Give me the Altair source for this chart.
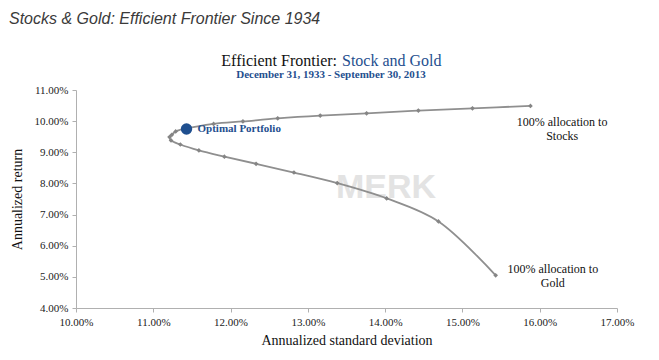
import altair as alt
import pandas as pd

# Frontier points (annualized std dev %, annualized return %), from 100% stocks to 100% gold
std_dev = [15.88, 15.13, 14.43, 13.76, 13.16, 12.61, 12.16, 11.78, 11.29, 11.24, 11.21,
           11.23, 11.35, 11.59, 11.92, 12.33, 12.82, 13.38, 14.02, 14.69, 15.43]
ann_return = [10.49, 10.41, 10.34, 10.25, 10.18, 10.09, 9.99, 9.91, 9.67, 9.56, 9.49,
              9.38, 9.25, 9.06, 8.86, 8.63, 8.35, 8.01, 7.52, 6.78, 5.05]

opt_std = [11.43]
opt_ret = [9.75]
opt_label = ["Optimal Portfolio"]

end_labels = [["100% allocation to", "Stocks"], ["100% allocation to", "Gold"]]
end_x = [16.29, 16.17]
end_y = [9.97, 5.26]

page_title = "Stocks & Gold: Efficient Frontier Since 1934"
chart_title_a = "Efficient Frontier:"
chart_title_b = "Stock and Gold"
chart_subtitle = "December 31, 1933 - September 30, 2013"

x_ticks = [10, 11, 12, 13, 14, 15, 16, 17]
y_ticks = [4, 5, 6, 7, 8, 9, 10, 11]

df = pd.DataFrame({"sd": std_dev, "ret": ann_return, "order": list(range(len(std_dev)))})
opt = pd.DataFrame({"sd": opt_std, "ret": opt_ret, "label": opt_label})
ends = pd.DataFrame({"sd": end_x, "ret": end_y, "label": end_labels})

SERIF = "Liberation Serif"
BLUE = "#1f4f8f"
GRAY = "#8f8f8f"

x_enc = alt.X("sd:Q", scale=alt.Scale(domain=[10, 17], nice=False, zero=False),
              axis=alt.Axis(values=x_ticks, tickCount=8, labelExpr="format(datum.value, '.2f') + '%'",
                            title="Annualized standard deviation", grid=False,
                            labelFlush=False, labelOverlap=False,
                            titleFontWeight="normal", titleFont=SERIF, titleFontSize=14,
                            titleColor="#111", titlePadding=6, labelPadding=4))
y_enc = alt.Y("ret:Q", scale=alt.Scale(domain=[4, 11], nice=False, zero=False),
              axis=alt.Axis(values=y_ticks, tickCount=8, labelExpr="format(datum.value, '.2f') + '%'",
                            title="Annualized return", grid=False,
                            labelFlush=False, labelOverlap=False,
                            titleFontWeight="normal", titleFont=SERIF, titleFontSize=14,
                            titleColor="#111", titlePadding=10, labelPadding=4))

line = alt.Chart(df).mark_line(color=GRAY, strokeWidth=1.8, interpolate="catmull-rom").encode(
    x=x_enc, y=y_enc, order="order:Q")
pts = alt.Chart(df).mark_point(shape="diamond", filled=True, color="#858585", size=22, opacity=1).encode(
    x=x_enc, y=y_enc)
opt_pt = alt.Chart(opt).mark_circle(color=BLUE, size=130, opacity=1).encode(x=x_enc, y=y_enc)
opt_txt = alt.Chart(opt).mark_text(align="left", baseline="middle", dx=11, font=SERIF,
                                   fontWeight="bold", fontSize=11, color=BLUE).encode(
    x=x_enc, y=y_enc, text="label")
end_txt = alt.Chart(ends).mark_text(align="center", baseline="middle", font=SERIF,
                                    fontSize=12, color="#111", lineHeight=14).encode(
    x=x_enc, y=y_enc, text="label")

watermark = alt.Chart(pd.DataFrame({"t": ["MERK"]})).mark_text(
    font="Liberation Sans", fontSize=34, fontWeight="bold", color="#e3e3e3",
    align="left", baseline="middle").encode(x=alt.value(260), y=alt.value(98), text="t")

def txt(s, x, y, **kw):
    return alt.Chart(pd.DataFrame({"t": [s]})).mark_text(**kw).encode(
        x=alt.value(x), y=alt.value(y), text="t")

t_page = txt(page_title, -67, -66, align="left", baseline="alphabetic",
             font="Liberation Sans", fontStyle="italic", fontSize=16, color="#3a3a3a")
t_a = txt(chart_title_a, 261, -24, align="right", baseline="alphabetic",
          font=SERIF, fontSize=16, color="#111")
t_b = txt(chart_title_b, 266, -24, align="left", baseline="alphabetic",
          font=SERIF, fontSize=16, color=BLUE)
t_sub = txt(chart_subtitle, 255, -12, align="center", baseline="alphabetic",
            font=SERIF, fontSize=11, fontWeight="bold", color=BLUE)

chart = alt.layer(watermark, line, pts, opt_pt, opt_txt, end_txt, t_page, t_a, t_b, t_sub).properties(
    width=541, height=218,
    autosize=alt.AutoSizeParams(type="none"),
    padding={"left": 68, "top": 82, "right": 30, "bottom": 44},
).configure_view(stroke=None).configure_axis(
    domainColor="#b0b0b0", tickColor="#b0b0b0", tickSize=4,
    labelFont=SERIF, labelFontSize=11, labelColor="#222"
)

chart.save("out.html", embed_options={"renderer": "svg", "actions": False})
